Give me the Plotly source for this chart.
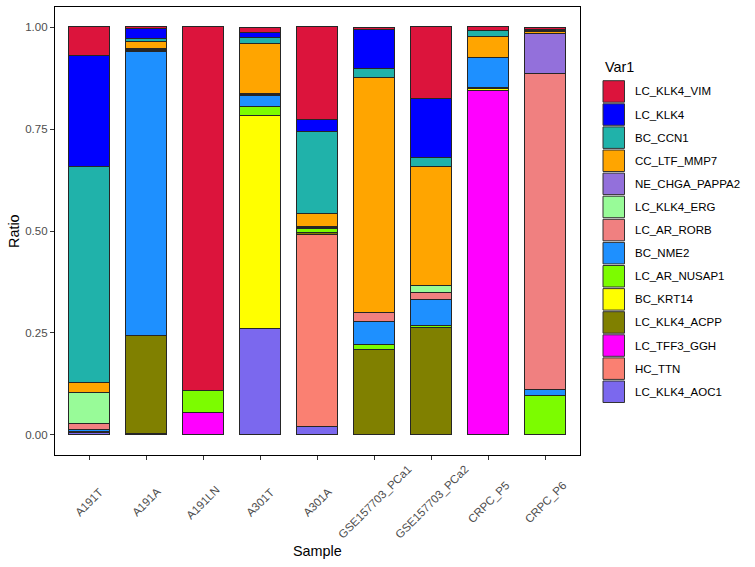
import plotly.graph_objects as go

samples = ["A191T", "A191A", "A191LN", "A301T", "A301A",
           "GSE157703_PCa1", "GSE157703_PCa2", "CRPC_P5", "CRPC_P6"]

# legend order (top of stack first)
cell_types = ["LC_KLK4_VIM", "LC_KLK4", "BC_CCN1", "CC_LTF_MMP7", "NE_CHGA_PAPPA2",
              "LC_KLK4_ERG", "LC_AR_RORB", "BC_NME2", "LC_AR_NUSAP1", "BC_KRT14",
              "LC_KLK4_ACPP", "LC_TFF3_GGH", "HC_TTN", "LC_KLK4_AOC1"]

colors = ["#DC143C", "#0000FF", "#20B2AA", "#FFA500", "#9370DB",
          "#98FB98", "#F08080", "#1E90FF", "#7CFC00", "#FFFF00",
          "#808000", "#FF00FF", "#FA8072", "#7B68EE"]

LC_KLK4_VIM    = [0.070, 0.003, 0.894, 0.014, 0.228, 0.005, 0.177, 0.008, 0.005]
LC_KLK4        = [0.272, 0.025, 0.000, 0.012, 0.029, 0.097, 0.143, 0.002, 0.004]
BC_CCN1        = [0.531, 0.008, 0.000, 0.014, 0.202, 0.023, 0.022, 0.013, 0.003]
CC_LTF_MMP7    = [0.025, 0.017, 0.000, 0.123, 0.030, 0.575, 0.294, 0.053, 0.003]
NE_CHGA_PAPPA2 = [0.000, 0.002, 0.000, 0.002, 0.000, 0.000, 0.000, 0.000, 0.098]
LC_KLK4_ERG    = [0.075, 0.002, 0.000, 0.002, 0.003, 0.000, 0.016, 0.000, 0.000]
LC_AR_RORB     = [0.015, 0.003, 0.000, 0.002, 0.000, 0.0235, 0.017, 0.000, 0.776]
BC_NME2        = [0.005, 0.697, 0.000, 0.025, 0.003, 0.057, 0.065, 0.072, 0.0155]
LC_AR_NUSAP1   = [0.000, 0.000, 0.053, 0.023, 0.011, 0.012, 0.003, 0.003, 0.095]
BC_KRT14       = [0.000, 0.000, 0.000, 0.522, 0.000, 0.000, 0.000, 0.006, 0.000]
LC_KLK4_ACPP   = [0.002, 0.241, 0.000, 0.000, 0.005, 0.207, 0.263, 0.000, 0.000]
LC_TFF3_GGH    = [0.000, 0.000, 0.053, 0.000, 0.000, 0.000, 0.000, 0.843, 0.000]
HC_TTN         = [0.002, 0.000, 0.000, 0.000, 0.470, 0.000, 0.000, 0.000, 0.000]
LC_KLK4_AOC1   = [0.003, 0.002, 0.000, 0.2605, 0.019, 0.000, 0.000, 0.000, 0.000]

series = [LC_KLK4_VIM, LC_KLK4, BC_CCN1, CC_LTF_MMP7, NE_CHGA_PAPPA2,
          LC_KLK4_ERG, LC_AR_RORB, BC_NME2, LC_AR_NUSAP1, BC_KRT14,
          LC_KLK4_ACPP, LC_TFF3_GGH, HC_TTN, LC_KLK4_AOC1]

y_ticks = [0, 0.25, 0.5, 0.75, 1.0]
y_tick_labels = ["0.00", "0.25", "0.50", "0.75", "1.00"]

W, H = 755, 567
L, R, T, B = 55, 580, 7, 455  # plot area in pixels
FONT = "Liberation Sans, Arial, sans-serif"
TXT = 11.5
TITLE = 14.4

fig = go.Figure()
# stack bottom -> top: reverse of legend order
for name, vals, col in reversed(list(zip(cell_types, series, colors))):
    fig.add_trace(go.Bar(
        x=samples, y=vals, name=name, width=0.72,
        marker=dict(color=col, line=dict(color="#262626", width=1)),
        showlegend=False,
    ))

def px_x(p):
    return (p - L) / (R - L)

def px_y(p):
    return (B - p) / (B - T)

shapes = []
annotations = []
# custom legend, ggplot style
key_left, key_size, key_step, key_top0 = 603, 21.5, 23.1, 80.7
annotations.append(dict(x=px_x(key_left), y=px_y(67), xref="paper", yref="paper",
                        text="Var1", showarrow=False, xanchor="left", yanchor="middle",
                        font=dict(family=FONT, size=TITLE, color="black")))
for i, (name, col) in enumerate(zip(cell_types, colors)):
    top = key_top0 + i * key_step
    shapes.append(dict(type="rect", xref="paper", yref="paper",
                       x0=px_x(key_left), x1=px_x(key_left + key_size),
                       y0=px_y(top + key_size), y1=px_y(top),
                       fillcolor=col, line=dict(color="#333333", width=1)))
    annotations.append(dict(x=px_x(633), y=px_y(top + key_size / 2), xref="paper", yref="paper",
                            text=name, showarrow=False, xanchor="left", yanchor="middle",
                            font=dict(family=FONT, size=TXT, color="black")))

# rotated x tick labels (ggplot style: centred under each tick)
for s in samples:
    annotations.append(dict(x=s, xref="x", y=px_y(502), yref="paper", text=s,
                            showarrow=False, textangle=-45, xanchor="center", yanchor="middle",
                            font=dict(family=FONT, size=TXT, color="#4D4D4D")))

# axis titles
annotations.append(dict(x=px_x(317), y=px_y(551), xref="paper", yref="paper", text="Sample",
                        showarrow=False, xanchor="center", yanchor="middle",
                        font=dict(family=FONT, size=TITLE, color="black")))
annotations.append(dict(x=px_x(14), y=px_y(231), xref="paper", yref="paper", text="Ratio",
                        showarrow=False, xanchor="center", yanchor="middle", textangle=-90,
                        font=dict(family=FONT, size=TITLE, color="black")))

fig.update_layout(
    barmode="stack",
    width=W, height=H,
    margin=dict(l=L, r=W - R, t=T, b=H - B, pad=0),
    paper_bgcolor="white", plot_bgcolor="white",
    font=dict(family=FONT, size=TXT, color="#4D4D4D"),
    shapes=shapes, annotations=annotations,
    bargap=0,
)
fig.update_xaxes(
    type="category", range=[-0.6, len(samples) - 0.4],
    showline=True, linecolor="black", linewidth=1.2, mirror=True,
    ticks="outside", ticklen=4, tickcolor="#333333", tickwidth=1,
    showticklabels=False,
    showgrid=False, zeroline=False,
)
fig.update_yaxes(
    range=[-0.05, 1.05], tickvals=y_ticks, ticktext=y_tick_labels,
    showline=True, linecolor="black", linewidth=1.2, mirror=True,
    ticks="outside", ticklen=4, tickcolor="#333333", tickwidth=1,
    tickfont=dict(family=FONT, size=TXT, color="#4D4D4D"),
    showgrid=False, zeroline=False,
)

fig.write_html("out.html", config={"displayModeBar": False},
               post_script="document.body.style.margin='0px';")
